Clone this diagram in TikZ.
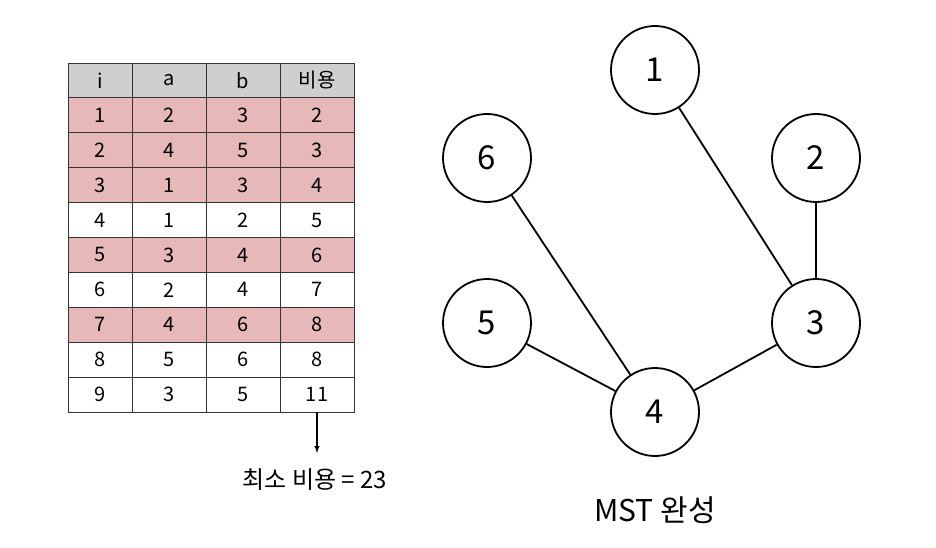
\documentclass[tikz,border=0pt]{standalone}
\usepackage{fontspec}
\setmainfont{Noto Sans CJK KR}
\usetikzlibrary{positioning}
\definecolor{hdgray}{RGB}{208,206,206}
\definecolor{pickpink}{RGB}{230,184,183}

\begin{document}
\begin{tikzpicture}[x=1pt,y=-1pt,
  cell/.style={draw=black!80, line width=0.8pt, minimum height=34.9pt, inner sep=0pt, font=\fontsize{20}{20}\selectfont},
  vert/.style={circle, draw, line width=1.8pt, minimum size=88pt, inner sep=0pt, font=\fontsize{33}{33}\selectfont},
  edge/.style={line width=1.8pt}]
\useasboundingbox (0,0) rectangle (936,548);
%edge table
  \foreach \r/\i/\a/\b/\c/\col in {0/i/a/b/비용/hdgray, 1/1/2/3/2/pickpink, 2/2/4/5/3/pickpink,
    3/3/1/3/4/pickpink, 4/4/1/2/5/white, 5/5/3/4/6/pickpink, 6/6/2/4/7/white,
    7/7/4/6/8/pickpink, 8/8/5/6/8/white, 9/9/3/5/11/white}
  {
    \node[cell, fill=\col, minimum width=64pt] (c\r-1) at (100,{63+34.9*(\r+0.5)}) {\i};
    \node[cell, fill=\col, minimum width=74pt] (c\r-2) at (169,{63+34.9*(\r+0.5)}) {\a};
    \node[cell, fill=\col, minimum width=74pt] (c\r-3) at (243,{63+34.9*(\r+0.5)}) {\b};
    \node[cell, fill=\col, minimum width=74pt] (c\r-4) at (317,{63+34.9*(\r+0.5)}) {\c};
  }
%total cost
\coordinate (tip) at (317,453);
\draw[line width=1.4pt, -latex] (c9-4.south) -- (tip);
\node[font=\fontsize{24}{24}\selectfont] (cost) at (315,480) {최소 비용 = 23};

%spanning tree
\node[vert] (v1) at (655,70) {1};
\node[vert] (v6) at (487,158) {6};
\node[vert] (v2) at (816,158) {2};
\node[vert] (v5) at (487,323) {5};
\node[vert] (v3) at (816,323) {3};
\node[vert] (v4) at (655,412) {4};
\draw[edge] (v1) -- (v3);
\draw[edge] (v2) -- (v3);
\draw[edge] (v6) -- (v4);
\draw[edge] (v5) -- (v4);
\draw[edge] (v3) -- (v4);
\node[font=\fontsize{30}{30}\selectfont] (cap) at (655,510) {MST 완성};
\end{tikzpicture}
\end{document}
